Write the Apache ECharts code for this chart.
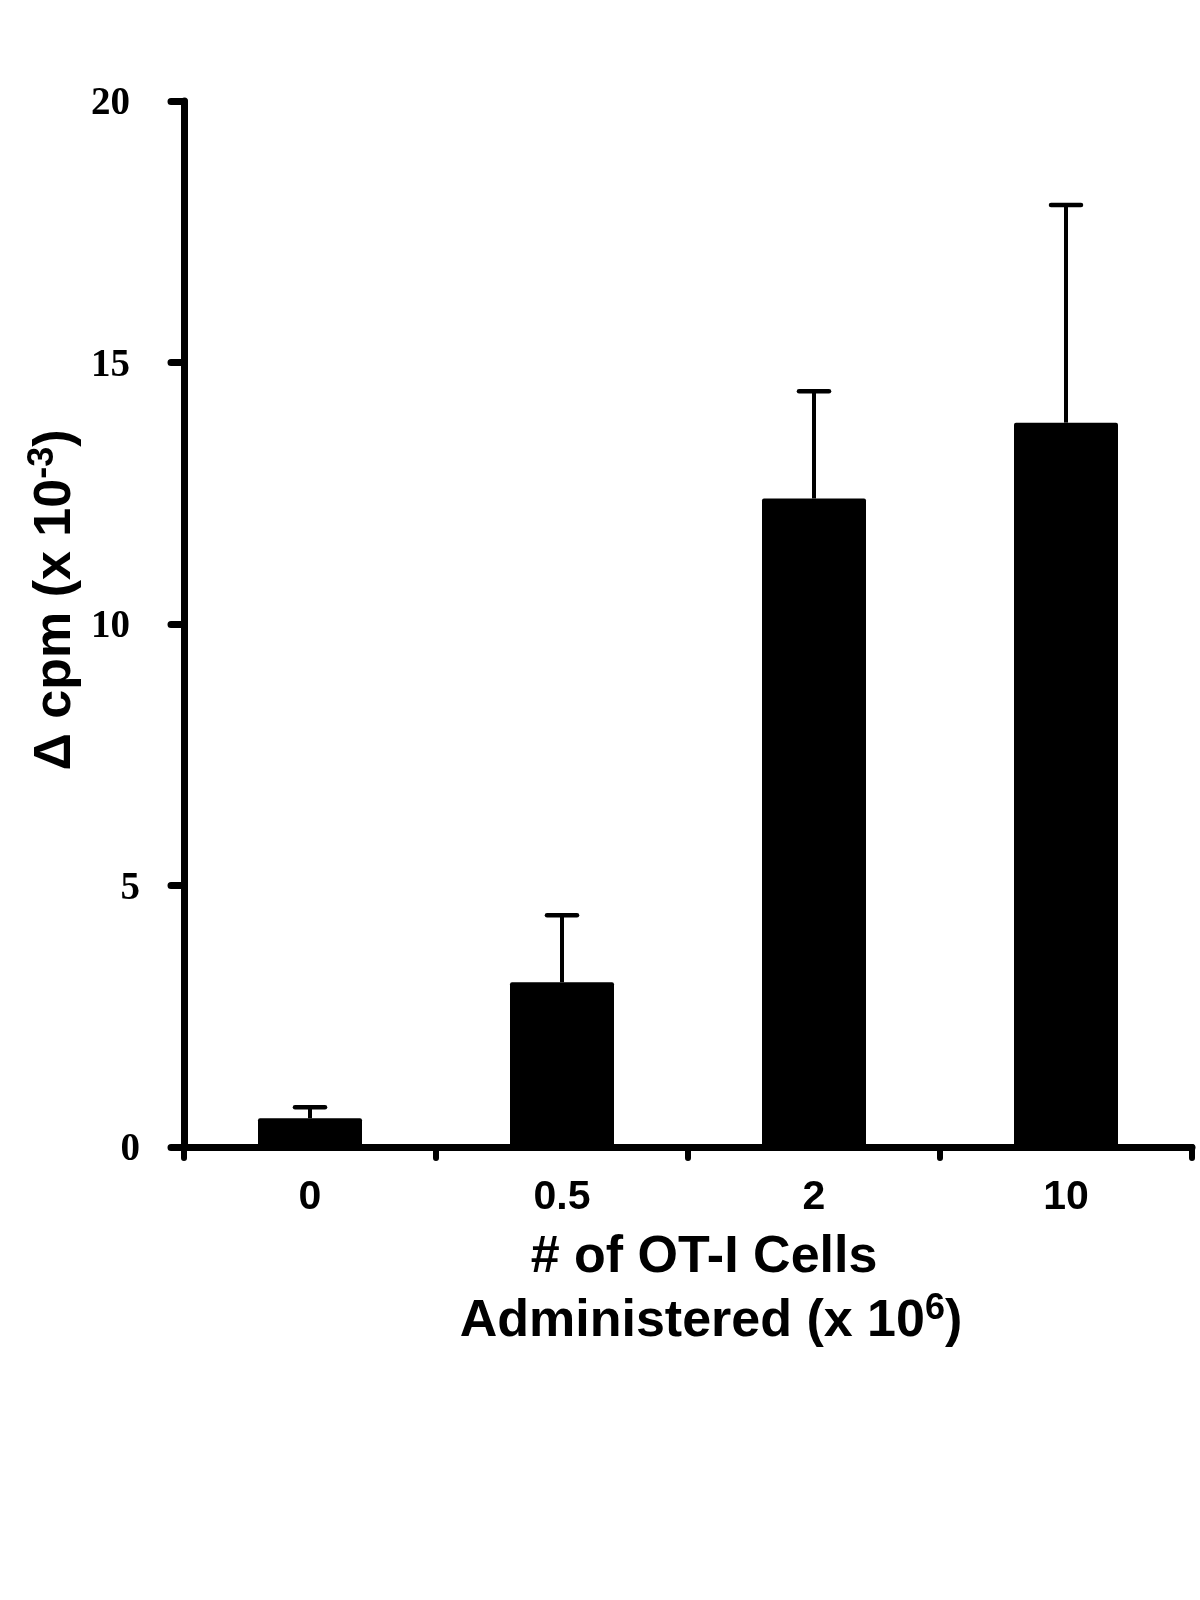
<!DOCTYPE html>
<html>
<head>
<meta charset="utf-8">
<script src="https://cdn.jsdelivr.net/npm/echarts@6/dist/echarts.min.js"></script>
<style>html,body{margin:0;padding:0;background:#fff}#c{width:1200px;height:1600px}</style>
</head>
<body>
<div id="c"></div>
<script>
const categories = ['0', '0.5', '2', '10'];
const means = [0.55, 3.15, 12.4, 13.85];
const errors = [0.21, 1.28, 2.05, 4.16];
const yTicks = [0, 5, 10, 15, 20];

const chart = echarts.init(document.getElementById('c'));
const errData = categories.map((c, i) => [i, means[i], means[i] + errors[i]]);

chart.setOption({
  animation: false,
  backgroundColor: '#fff',
  grid: { left: 184, right: 8, top: 101, bottom: 453, containLabel: false },
  xAxis: {
    type: 'category',
    data: categories,
    boundaryGap: true,
    axisLine: { show: true, lineStyle: { color: '#000', width: 7, cap: 'round' } },
    axisTick: { show: true, interval: 0, alignWithLabel: false, length: 11, lineStyle: { color: '#000', width: 6, cap: 'round' } },
    axisLabel: { margin: 30, color: '#000', fontFamily: 'Liberation Sans', fontWeight: 'bold', fontSize: 41 },
    splitLine: { show: false }
  },
  yAxis: {
    type: 'value',
    min: yTicks[0],
    max: yTicks[yTicks.length - 1],
    interval: 5,
    axisLine: { show: true, onZero: false, lineStyle: { color: '#000', width: 7, cap: 'round' } },
    axisTick: { show: true, length: 13, lineStyle: { color: '#000', width: 7, cap: 'round' } },
    axisLabel: {
      margin: 44, color: '#000', fontFamily: 'Liberation Serif', fontWeight: 'bold', fontSize: 39,
      formatter: v => (String(v).length > 1 ? '{w|' + v + '}' : '{n|' + v + '}'),
      rich: {
        w: { fontFamily: 'Liberation Serif', fontWeight: 'bold', fontSize: 39, color: '#000', padding: [6, 10, 0, 0] },
        n: { fontFamily: 'Liberation Serif', fontWeight: 'bold', fontSize: 39, color: '#000', padding: [6, 0, 0, 0] }
      }
    },
    splitLine: { show: false }
  },
  series: [
    {
      type: 'bar',
      data: means,
      barWidth: 104,
      itemStyle: { color: '#000', borderRadius: 2 },
      z: 2
    },
    {
      type: 'custom',
      data: errData,
      z: 3,
      renderItem: function (params, api) {
        const x = api.value(0);
        const base = api.coord([x, api.value(1)]);
        const top = api.coord([x, api.value(2)]);
        const hw = 15;
        return {
          type: 'group',
          children: [
            { type: 'line', shape: { x1: base[0], y1: base[1], x2: top[0], y2: top[1] }, style: { stroke: '#000', lineWidth: 4 } },
            { type: 'line', shape: { x1: top[0] - hw, y1: top[1], x2: top[0] + hw, y2: top[1] }, style: { stroke: '#000', lineWidth: 4.5, lineCap: 'round' } }
          ]
        };
      }
    }
  ],
  graphic: [
    {
      type: 'text', x: 56, y: 600, rotation: Math.PI / 2,
      style: {
        text: 'Δ cpm (x 10{s|-3})', x: 0, y: 0, align: 'center', verticalAlign: 'middle',
        fontFamily: 'Liberation Sans', fontWeight: 'bold', fontSize: 52, fill: '#000',
        rich: { s: { fontFamily: 'Liberation Sans', fontWeight: 'bold', fontSize: 36, fill: '#000', verticalAlign: 'top', padding: [0, 0, 26, 0] } }
      }
    },
    {
      type: 'text', x: 704, y: 1258,
      style: {
        text: '# of OT-I Cells', x: 0, y: 0, align: 'center', verticalAlign: 'middle',
        fontFamily: 'Liberation Sans', fontWeight: 'bold', fontSize: 52, fill: '#000'
      }
    },
    {
      type: 'text', x: 711, y: 1322,
      style: {
        text: 'Administered (x 10{s|6})', x: 0, y: 0, align: 'center', verticalAlign: 'middle',
        fontFamily: 'Liberation Sans', fontWeight: 'bold', fontSize: 52, fill: '#000',
        rich: { s: { fontFamily: 'Liberation Sans', fontWeight: 'bold', fontSize: 36, fill: '#000', verticalAlign: 'top', padding: [0, 0, 26, 0] } }
      }
    }
  ]
});
</script>
</body>
</html>
